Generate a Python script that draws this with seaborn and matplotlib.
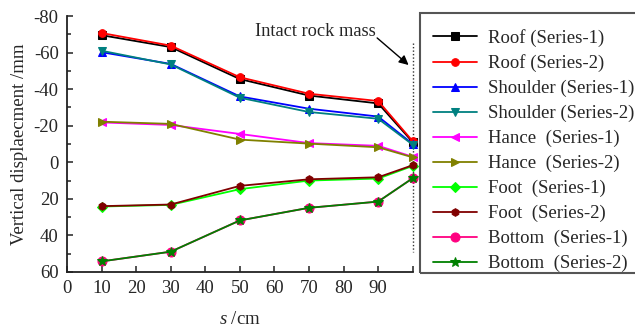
import matplotlib
matplotlib.use("Agg")
import matplotlib.pyplot as plt
from matplotlib.patches import Rectangle
from matplotlib.ticker import MultipleLocator, FixedLocator, FixedFormatter
import seaborn as sns
import pandas as pd

# Distance from the excavation boundary (cm)
s_cm = [10, 30, 50, 70, 90, 100]

# Vertical displacement (mm) at each monitoring position
roof_1 = [-69.5, -63.0, -45.5, -36.5, -32.2, -11.0]
roof_2 = [-70.7, -63.8, -46.5, -37.5, -33.5, -11.5]
shoulder_1 = [-60.2, -53.8, -36.0, -29.3, -25.0, -10.0]
shoulder_2 = [-61.0, -53.5, -35.3, -27.5, -23.8, -9.6]
hance_1 = [-21.8, -20.4, -15.5, -10.5, -9.0, -3.0]
hance_2 = [-22.2, -21.0, -12.4, -10.2, -8.2, -2.7]
foot_1 = [24.2, 23.3, 14.7, 10.0, 8.9, 2.0]
foot_2 = [24.0, 23.1, 12.9, 9.3, 8.2, 1.6]
bottom_1 = [54.2, 48.9, 31.8, 24.9, 21.5, 8.7]
bottom_2 = [54.2, 48.9, 31.8, 24.9, 21.5, 8.7]

series_labels = [
    "Roof (Series-1)", "Roof (Series-2)",
    "Shoulder (Series-1)", "Shoulder (Series-2)",
    "Hance  (Series-1)", "Hance  (Series-2)",
    "Foot  (Series-1)", "Foot  (Series-2)",
    "Bottom  (Series-1)", "Bottom  (Series-2)",
]
series_values = [roof_1, roof_2, shoulder_1, shoulder_2, hance_1, hance_2,
                 foot_1, foot_2, bottom_1, bottom_2]

x_tick_labels = ["0", "10", "20", "30", "40", "50", "60", "70", "80", "90", ""]

colors = ["#000000", "#ff0000", "#0000ff", "#008080", "#ff00ff",
          "#808000", "#00ff00", "#800000", "#ff0080", "#008000"]
markers = ["s", "o", "^", "v", "<", ">", "D", "h", "o", "*"]
msizes = [5.5, 5.5, 6, 6, 6, 6, 5, 5.5, 6.5, 7]

sns.set_style("ticks")
plt.rcParams["font.family"] = ["Liberation Serif", "DejaVu Serif"]
plt.rcParams["mathtext.fontset"] = "custom"
plt.rcParams["mathtext.rm"] = "Liberation Serif"
plt.rcParams["mathtext.it"] = "Liberation Serif:italic"
plt.rcParams["axes.unicode_minus"] = False

FS = 13.5

df = pd.DataFrame({
    "s": [v for _ in series_values for v in s_cm],
    "disp": [v for vals in series_values for v in vals],
    "series": [lab for lab, vals in zip(series_labels, series_values) for _ in vals],
})

fig = plt.figure(figsize=(6.35, 3.3), dpi=100)
ax = fig.add_axes([0.1055, 0.1758, 0.5445, 0.7757])

for lab, c, m, ms in zip(series_labels, colors, markers, msizes):
    sns.lineplot(data=df[df["series"] == lab], x="s", y="disp", ax=ax,
                 color=c, marker=m, markersize=ms, markeredgecolor=c,
                 linewidth=1.3, label=lab, clip_on=False, zorder=3)

ax.set_xlim(0, 100)
ax.set_ylim(60, -80)
ax.xaxis.set_major_locator(FixedLocator(list(range(0, 101, 10))))
ax.xaxis.set_major_formatter(FixedFormatter(x_tick_labels))
ax.yaxis.set_major_locator(MultipleLocator(20))
ax.yaxis.set_minor_locator(MultipleLocator(10))
ax.tick_params(axis="both", which="both", direction="in", labelsize=FS,
               width=1.1, color="#222222")
ax.tick_params(axis="both", which="major", length=4, pad=6)
ax.tick_params(axis="both", which="minor", length=3)

for side in ["top", "right"]:
    ax.spines[side].set_visible(False)
for side in ["left", "bottom"]:
    ax.spines[side].set_linewidth(1.3)
    ax.spines[side].set_color("#222222")

ax.set_xlabel("$s$ /cm", fontsize=FS, labelpad=10)
ax.set_ylabel("Vertical displaecment /mm", fontsize=FS, labelpad=4)

# boundary between the disturbed zone and intact rock
ax.vlines(100, -65, 49, colors="#333333", linestyles=(0, (1, 1.5)),
          linewidth=1.0, zorder=1, clip_on=False)
ax.text(89.4, -71.3, "Intact rock mass", fontsize=FS - 0.3,
        ha="right", va="center")
ax.annotate("", xy=(98.8, -53.2), xytext=(89.7, -68.0),
            arrowprops=dict(arrowstyle="-|>", color="black", lw=1.0,
                            shrinkA=0, shrinkB=0, mutation_scale=14))

leg = ax.legend(loc="upper left", bbox_to_anchor=(0.662, 0.953),
                bbox_transform=fig.transFigure, fontsize=FS, frameon=False,
                borderpad=0.7, labelspacing=0.41,
                handlelength=2.3, handletextpad=0.6, borderaxespad=0)
for line in leg.get_lines():
    line.set_linewidth(1.3)

# legend box, running off the right edge of the figure
fig.add_artist(Rectangle((420 / 635, 1 - 273 / 330), 0.4, 260 / 330,
                         transform=fig.transFigure, fill=False,
                         edgecolor="#555555", linewidth=1.5))

fig.savefig("out.png", dpi=100)
